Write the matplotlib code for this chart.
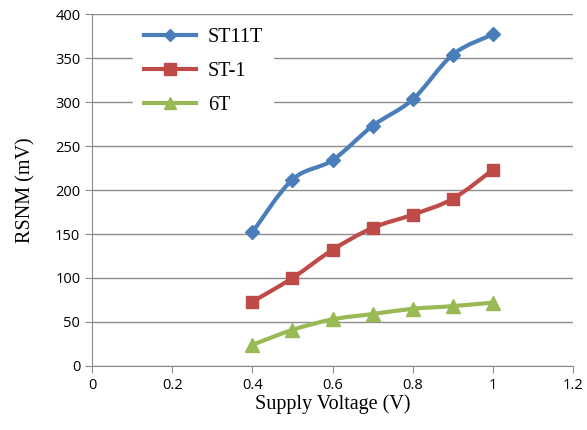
import matplotlib
matplotlib.use("Agg")
import matplotlib.pyplot as plt
from matplotlib.path import Path
from matplotlib.patches import PathPatch
import numpy as np

voltage = [0.4, 0.5, 0.6, 0.7, 0.8, 0.9, 1.0]
st11t = [152, 212, 234, 273, 303, 354, 377]
st1 = [73, 100, 132, 157, 172, 190, 223]
six_t = [24, 41, 53, 59, 65, 68, 72]

series = [
    ("ST11T", st11t, "#4A7EBB", "D", 7),
    ("ST-1", st1, "#BE4B48", "s", 9),
    ("6T", six_t, "#98B954", "^", 10),
]


def smooth_path(xs, ys):
    # Excel-style smoothed line: cubic bezier through each point
    pts = np.column_stack([xs, ys]).astype(float)
    verts = [pts[0]]
    codes = [Path.MOVETO]
    n = len(pts)
    for i in range(n - 1):
        p0 = pts[i - 1] if i > 0 else pts[i]
        p1 = pts[i]
        p2 = pts[i + 1]
        p3 = pts[i + 2] if i + 2 < n else pts[i + 1]
        c1 = p1 + (p2 - p0) / 6.0
        c2 = p2 - (p3 - p1) / 6.0
        verts += [c1, c2, p2]
        codes += [Path.CURVE4] * 3
    return Path(verts, codes)


fig = plt.figure(figsize=(5.87, 4.30), dpi=100)
ax = fig.add_axes([0.157, 0.149, 0.819, 0.818])

for name, vals, color, marker, ms in series:
    patch = PathPatch(smooth_path(voltage, vals), facecolor="none", edgecolor=color,
                      lw=3, zorder=3, capstyle="round", joinstyle="round")
    ax.add_patch(patch)
    ax.plot(voltage, vals, linestyle="none", marker=marker, markersize=ms,
            color=color, zorder=4)
    ax.plot([], [], color=color, lw=3, marker=marker, markersize=ms - 1, label=name)

ax.set_xlim(0, 1.2)
ax.set_ylim(0, 400)
ax.set_xticks(np.arange(0, 1.21, 0.2))
ax.set_xticklabels(["0", "0.2", "0.4", "0.6", "0.8", "1", "1.2"])
ax.set_yticks(np.arange(0, 401, 50))
ax.yaxis.grid(True, color="#8C8C8C", lw=1)
ax.set_axisbelow(True)

for s in ["top", "right"]:
    ax.spines[s].set_visible(False)
for s in ["left", "bottom"]:
    ax.spines[s].set_color("#8C8C8C")
ax.tick_params(axis="both", colors="#8C8C8C", length=5, labelcolor="black", labelsize=10.5)
for lab in ax.get_xticklabels() + ax.get_yticklabels():
    lab.set_family("Open Sans")

ax.set_xlabel("Supply Voltage (V)", family="Liberation Serif", fontsize=14.5, labelpad=1)
ax.set_ylabel("RSNM (mV)", family="Liberation Serif", fontsize=14.5, labelpad=14)

leg = ax.legend(loc="upper left", bbox_to_anchor=(0.065, 1.018), frameon=True,
                prop={"family": "Liberation Serif", "size": 14.5}, handlelength=2.6,
                labelspacing=0.75, handletextpad=0.6, borderpad=0.5,
                facecolor="white", edgecolor="white", framealpha=1)

fig.savefig("out.png", dpi=100)
